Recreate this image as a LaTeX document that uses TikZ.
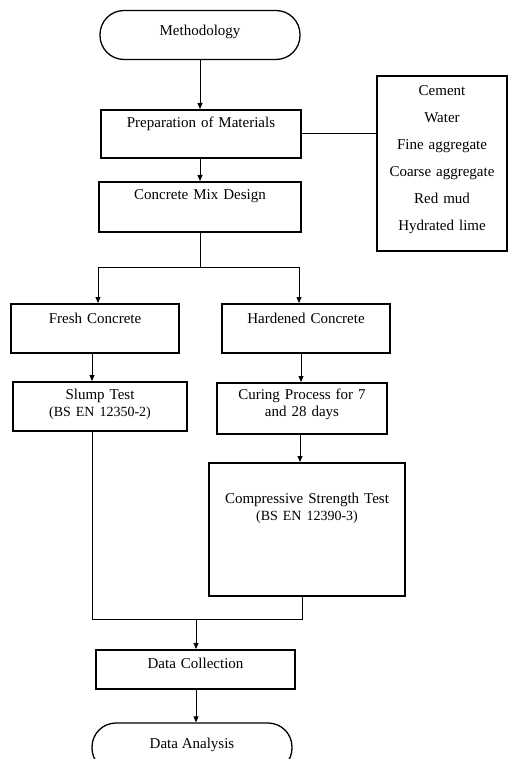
\documentclass[tikz,border=0pt]{standalone}
\usepackage{fontspec}
\setmainfont{Liberation Serif}
\usetikzlibrary{arrows.meta}
\begin{document}
\begin{tikzpicture}[x=1pt,y=-1pt,
  every node/.style={font=\fontsize{15}{17}\selectfont, text=black},
  box/.style={draw, line width=1.6pt, anchor=north, inner xsep=0pt, inner ysep=0pt, align=center},
  term/.style={draw, line width=1.3pt, rounded corners=24pt, minimum width=200pt, minimum height=49pt, inner sep=0pt, text height=10pt, text depth=8pt},
  conn/.style={line width=0.8pt},
  arr/.style={conn, -{Triangle[length=6pt,width=5pt]}}
]
\useasboundingbox (0,0) rectangle (509,759);
\clip (0,0) rectangle (509,759);

% nodes
\node[term] (meth) at (200,35) {Methodology};
\node[box, text width=200pt, text height=18pt, text depth=30pt] (prep) at (201,109) {Preparation of Materials};
\node[box, text width=202pt, text height=18pt, text depth=32pt] (mix) at (200,181) {Concrete Mix Design};
\node[box, text width=130pt, text height=20pt, text depth=155pt, font=\fontsize{15}{27}\selectfont] (mat) at (442,75)
  {Cement\\Water\\Fine aggregate\\Coarse aggregate\\Red mud\\Hydrated lime};
\node[box, text width=168pt, text height=20pt, text depth=29pt] (fresh) at (95,303) {Fresh Concrete};
\node[box, text width=168pt, text height=20pt, text depth=29pt] (hard) at (306,303) {Hardened Concrete};
\node[box, text width=174pt, text height=18pt, text depth=31pt] (slump) at (100,381)
  {Slump Test\\{\fontsize{14}{17}\selectfont (BS EN 12350-2)}};
\node[box, text width=170pt, text height=17pt, text depth=34pt] (curing) at (302,382)
  {Curing Process for 7\\and 28 days};
\node[box, text width=196pt, text height=41pt, text depth=92pt] (comp) at (307,462)
  {Compressive Strength Test\\{\fontsize{14}{17}\selectfont (BS EN 12390-3)}};
\node[box, text width=199pt, text height=19pt, text depth=20pt] (coll) at (195.5,649) {Data Collection};
\node[term] (anal) at (192,747.5) {Data Analysis};

% helper coordinates
\coordinate (split) at (200,267);
\coordinate (bl) at (98,267);
\coordinate (br) at (299,267);
\coordinate (fa) at (92,0);
\coordinate (ha) at (301,0);
\coordinate (ca) at (300,0);
\coordinate (jl) at (92,619);
\coordinate (jr) at (302,619);
\coordinate (jm) at (196,619);

% connectors
\draw[arr] (meth.south) -- (meth.south |- prep.north);
\draw[arr] (mix.north |- prep.south) -- (mix.north);
\draw[conn] (prep.east) -- (prep.east -| mat.west);
\draw[conn] (mix.south) -- (split);
\draw[conn] (bl) -- (br);
\draw[arr] (bl) -- (bl |- fresh.north);
\draw[arr] (br) -- (br |- hard.north);
\draw[arr] (fa |- fresh.south) -- (fa |- slump.north);
\draw[arr] (ha |- hard.south) -- (ha |- curing.north);
\draw[arr] (ca |- curing.south) -- (ca |- comp.north);
\draw[conn] (fa |- slump.south) -- (jl) -- (jr) -- (jr |- comp.south);
\draw[arr] (jm) -- (jm |- coll.north);
\draw[arr] (jm |- coll.south) -- (jm |- anal.north);
\end{tikzpicture}
\end{document}
